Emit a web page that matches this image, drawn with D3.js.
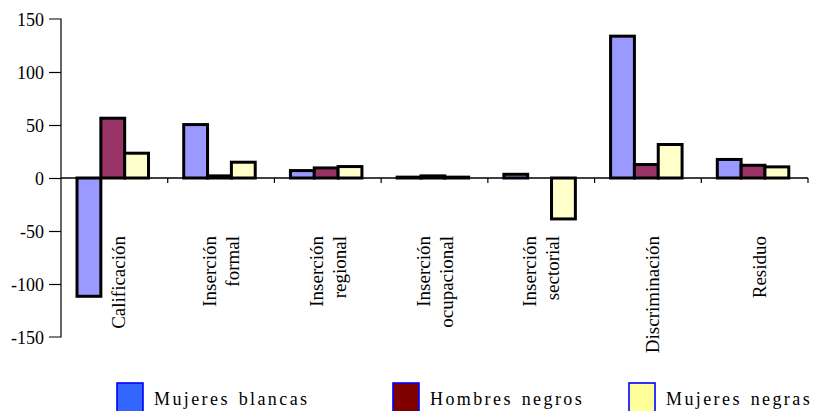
<!DOCTYPE html>
<html>
<head>
<meta charset="utf-8">
<script src="https://cdn.jsdelivr.net/npm/d3@7"></script>
<style>
  html, body { margin: 0; padding: 0; background: #fff; }
  svg { display: block; }
</style>
</head>
<body>
<svg id="chart" width="819" height="411"></svg>
<script>
// ---- data ----
const categories = [
  ["Calificación"],
  ["Inserción", "formal"],
  ["Inserción", "regional"],
  ["Inserción", "ocupacional"],
  ["Inserción", "sectorial"],
  ["Discriminación"],
  ["Residuo"]
];
const seriesNames = ["Mujeres blancas", "Hombres negros", "Mujeres negras"];
const mujeresBlancas = [-111.6, 50.4, 7, 0.8, 3.5, 133.8, 17.5];
const hombresNegros  = [56.4, 2, 9.5, 2, 0, 12.7, 12];
const mujeresNegras  = [23.4, 14.9, 10.8, 0.8, -38.6, 31.6, 10.5];
const yTicks = [150, 100, 50, 0, -50, -100, -150];

const barColors = ["#9999FF", "#993366", "#FFFFCC"];
const legendColors = ["#3366FF", "#800000", "#FFFF99"];
const FONT = '"Liberation Serif"';

// ---- layout ----
const svg = d3.select("#chart");
const plotL = 61, plotR = 808, plotT = 19, plotB = 337;

const x0 = d3.scaleBand().domain(d3.range(categories.length)).range([plotL, plotR]).padding(0);
const bw = x0.bandwidth();
const x1 = d3.scaleBand().domain(d3.range(seriesNames.length)).range([bw * 0.15, bw * 0.82]).padding(0);
const y = d3.scaleLinear().domain([-150, 150]).range([plotB, plotT]);

const seriesValues = [mujeresBlancas, hombresNegros, mujeresNegras];

// bars
const groups = svg.append("g").selectAll("g")
  .data(categories.map((c, i) => i))
  .join("g")
  .attr("transform", i => `translate(${x0(i)},0)`);

groups.selectAll("rect")
  .data(i => seriesValues.map((vals, s) => ({ s, v: vals[i] })).filter(d => d.v !== 0))
  .join("rect")
  .attr("x", d => x1(d.s))
  .attr("width", x1.bandwidth())
  .attr("y", d => y(Math.max(0, d.v)))
  .attr("height", d => Math.abs(y(d.v) - y(0)))
  .attr("fill", d => barColors[d.s])
  .attr("stroke", "#000")
  .attr("stroke-width", 3);

// y axis
const yAxis = d3.axisLeft(y).tickValues(yTicks).tickSize(12).tickPadding(5).tickFormat(d => String(d));
const yg = svg.append("g").attr("transform", `translate(${plotL},0)`).call(yAxis);
yg.select(".domain").attr("stroke", "#000").attr("stroke-width", 1.2).attr("d", `M-12,${plotT}H0V${plotB}H-12`);
yg.selectAll(".tick line").attr("stroke", "#000").attr("stroke-width", 1.2);
yg.selectAll(".tick text")
  .style("font-family", FONT).style("font-size", "18px")
  .attr("fill", "#000").attr("x", -17).attr("dy", "0.36em");
yg.selectAll(".tick").filter(d => d === 150 || d === -150).select("line").attr("stroke", "none");

// zero line with category ticks
const boundaries = d3.range(categories.length + 1).map(i => i === categories.length ? plotR : x0(i));
const xg = svg.append("g");
xg.append("line").attr("x1", plotL).attr("x2", plotR).attr("y1", y(0)).attr("y2", y(0))
  .attr("stroke", "#000").attr("stroke-width", 1.3);
xg.selectAll("line.tk").data(boundaries.slice(1)).join("line").attr("class", "tk")
  .attr("x1", d => d).attr("x2", d => d).attr("y1", y(0)).attr("y2", y(0) + 5)
  .attr("stroke", "#000").attr("stroke-width", 1.2);

// category labels (rotated)
const labelTop = 236;
const lineGap = 23;
categories.forEach((lines, i) => {
  const cx = x0(i) + bw / 2;
  const n = lines.length;
  lines.forEach((ln, j) => {
    const off = n === 1 ? 11 : (j - (n - 1) / 2) * lineGap + 6.5;
    svg.append("text")
      .attr("transform", `translate(${cx + off},${labelTop}) rotate(-90)`)
      .attr("text-anchor", "end")
      .style("font-family", FONT)
      .style("font-size", "19px")
      .attr("fill", "#000")
      .text(ln);
  });
});

// legend
const legendX = [117, 393, 629];
const legend = svg.append("g");
seriesNames.forEach((name, i) => {
  legend.append("rect")
    .attr("x", legendX[i]).attr("y", 383).attr("width", 26).attr("height", 30)
    .attr("fill", legendColors[i]).attr("stroke", "#0000FF").attr("stroke-width", 1.6);
  legend.append("text")
    .attr("x", legendX[i] + 37).attr("y", 405)
    .style("font-family", FONT)
    .style("font-size", "18px").style("letter-spacing", "2.4px").style("word-spacing", "2px")
    .attr("fill", "#000")
    .text(name);
});
</script>
</body>
</html>
